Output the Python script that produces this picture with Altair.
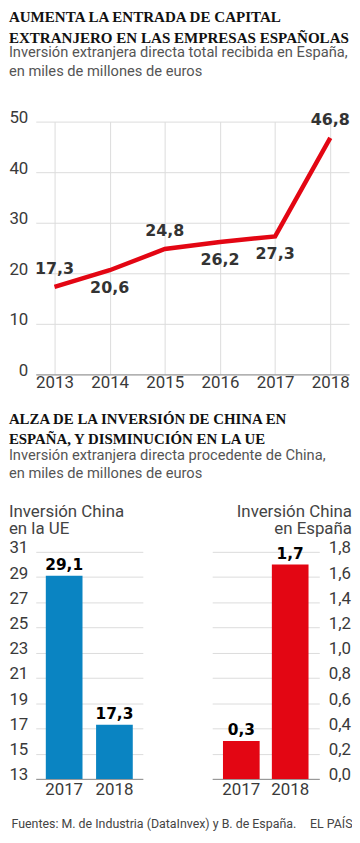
import json
import altair as alt
import pandas as pd

# ---------------- data ----------------
years = ["2013", "2014", "2015", "2016", "2017", "2018"]
ied_total = [17.3, 20.6, 24.8, 26.2, 27.3, 46.8]
labels_above = ["2013", "2015", "2018"]
line_ticks = [0, 10, 20, 30, 40, 50]

bar_years = ["2017", "2018"]
china_ue = [29.1, 17.3]
china_es = [0.3, 1.7]
ue_ticks = [13, 15, 17, 19, 21, 23, 25, 27, 29, 31]
es_ticks = [0.0, 0.2, 0.4, 0.6, 0.8, 1.0, 1.2, 1.4, 1.6, 1.8]

title1 = ["AUMENTA LA ENTRADA DE CAPITAL", "EXTRANJERO EN LAS EMPRESAS ESPAÑOLAS"]
sub1 = ["Inversión extranjera directa total recibida en España,", "en miles de millones de euros"]
title2 = ["ALZA DE LA INVERSIÓN DE CHINA EN", "ESPAÑA, Y DISMINUCIÓN EN LA UE"]
sub2 = ["Inversión extranjera directa procedente de China,", "en miles de millones de euros"]
panel_ue = ["Inversión China", "en la UE"]
panel_es = ["Inversión China", "en España"]
source = "Fuentes: M. de Industria (DataInvex) y B. de España."
brand = "EL PAÍS"

# ---------------- styles ----------------
SERIF = "Liberation Serif"
NARROW = "Liberation Sans Narrow, Roboto"
SANS = "Roboto"
BOLD = "DejaVu Sans"
RED = "#e30613"
BLUE = "#0a84c2"
GRID = "#dcdcdc"
AXIS = "#8c8c8c"
TXT = "#3a3a3a"
COMMA = "replace(format(datum.value, '.1f'), '.', ',')"
LAB = "replace(format(datum.v, '.1f'), '.', ',')"

# ---------------- line chart ----------------
line_df = pd.DataFrame({"year": years, "v": ied_total})

base = alt.Chart(line_df).encode(
    x=alt.X("year:O", scale=alt.Scale(type="point", padding=0.34),
            axis=alt.Axis(title=None, labelAngle=0, grid=True, gridColor=GRID,
                          domainColor=AXIS, ticks=False, labelFont=NARROW,
                          labelFontSize=17, labelColor=TXT, labelPadding=0)),
    y=alt.Y("v:Q", scale=alt.Scale(domain=[0, 50], nice=False),
            axis=alt.Axis(title=None, values=line_ticks, grid=True, gridColor=GRID,
                          domain=False, ticks=False, labelFont=NARROW, labelFontSize=17,
                          labelColor=TXT, labelPadding=8, labelOffset=-4)),
)
line = base.mark_line(color=RED, strokeWidth=4.5)
lab = base.transform_calculate(lab=LAB)
above_expr = "indexof(" + json.dumps(labels_above) + ", datum.year) >= 0"
below_expr = "indexof(" + json.dumps(labels_above) + ", datum.year) < 0"
above = lab.transform_filter(above_expr).mark_text(
    font=BOLD, fontWeight="bold", fontSize=16, color="#333", dy=-18).encode(text="lab:N")
below = lab.transform_filter(below_expr).mark_text(
    font=BOLD, fontWeight="bold", fontSize=16, color="#333", dy=18).encode(text="lab:N")

line_chart = alt.layer(line, above, below).properties(
    width=316, height=255,
    title=alt.TitleParams(
        text=title1, subtitle=sub1, anchor="start", font=SERIF, fontSize=15.2,
        fontWeight="bold", color="#111", lineHeight=21,
        subtitleFont=NARROW, subtitleFontSize=14.8, subtitleColor="#555",
        subtitleFontWeight="normal", subtitleLineHeight=19, subtitlePadding=-0.5,
        offset=30),
)

# ---------------- bar charts ----------------
ue_df = pd.DataFrame({"year": bar_years, "v": china_ue})
es_df = pd.DataFrame({"year": bar_years, "v": china_es})

left_base = alt.Chart(ue_df).encode(
    x=alt.X("year:N", scale=alt.Scale(paddingInner=0.27, paddingOuter=0.2),
            axis=alt.Axis(title=source, titleFont=NARROW, titleFontSize=12.5, titleColor="#444",
                          titleFontWeight="normal", titleX=-25, titleY=49, titleAlign="left",
                          titleBaseline="alphabetic", labelAngle=0, ticks=False,
                          domainColor=AXIS, labelFont=NARROW, labelFontSize=17,
                          labelColor=TXT, labelPadding=3)),
    y=alt.Y("v:Q", scale=alt.Scale(domain=[13, 31], zero=False, nice=False),
            axis=alt.Axis(title=None, values=ue_ticks, format="d", grid=True, gridColor=GRID,
                          domain=False, ticks=False, labelFont=NARROW, labelFontSize=17,
                          labelColor=TXT, labelPadding=8, labelOffset=-4)),
)
left = alt.layer(
    left_base.mark_bar(color=BLUE, clip=True),
    left_base.transform_calculate(lab=LAB).mark_text(
        font=BOLD, fontWeight="bold", fontSize=15.5, color="#000", dy=-6,
        baseline="alphabetic").encode(text="lab:N"),
).properties(
    width=108, height=229,
    title=alt.TitleParams(text=panel_ue, anchor="start", font=SANS, fontSize=17,
                          fontWeight="normal", color="#444", lineHeight=17.5, offset=1),
)

right_base = alt.Chart(es_df).encode(
    x=alt.X("year:N", scale=alt.Scale(paddingInner=0.25, paddingOuter=0.22),
            axis=alt.Axis(title=brand, titleFont=NARROW, titleFontSize=12.5, titleColor="#444",
                          titleFontWeight="normal", titleX=141, titleY=49, titleAlign="right",
                          titleBaseline="alphabetic", labelAngle=0, ticks=False,
                          domainColor=AXIS, labelFont=NARROW, labelFontSize=17,
                          labelColor=TXT, labelPadding=3)),
    y=alt.Y("v:Q", scale=alt.Scale(domain=[0, 1.8], nice=False),
            axis=alt.Axis(title=None, orient="right", values=es_ticks, labelExpr=COMMA,
                          grid=True, gridColor=GRID, domain=False, ticks=False,
                          labelFont=NARROW, labelFontSize=17, labelColor=TXT,
                          labelPadding=9, labelOffset=-4)),
)
right = alt.layer(
    right_base.mark_bar(color=RED),
    right_base.transform_calculate(lab=LAB).mark_text(
        font=BOLD, fontWeight="bold", fontSize=15.5, color="#000", dy=-6,
        baseline="alphabetic").encode(text="lab:N"),
).properties(
    width=108, height=229,
    title=alt.TitleParams(text=panel_es, anchor="end", font=SANS, fontSize=17,
                          fontWeight="normal", color="#444", lineHeight=17.5, offset=1),
)

bars = alt.hconcat(
    left, right, spacing=70, bounds="flush",
    title=alt.TitleParams(
        text=title2, subtitle=sub2, anchor="start", font=SERIF, fontSize=15,
        fontWeight="bold", color="#111", lineHeight=19.5,
        subtitleFont=NARROW, subtitleFontSize=14.8, subtitleColor="#555",
        subtitleFontWeight="normal", subtitleLineHeight=18, subtitlePadding=2, offset=22),
)

chart = alt.vconcat(line_chart, bars, spacing=22).properties(
    padding={"top": -2, "left": 0, "right": 0, "bottom": 0}, background="white"
).configure_view(stroke=None)

chart.save("out.html", embed_options={"renderer": "svg", "actions": False})
